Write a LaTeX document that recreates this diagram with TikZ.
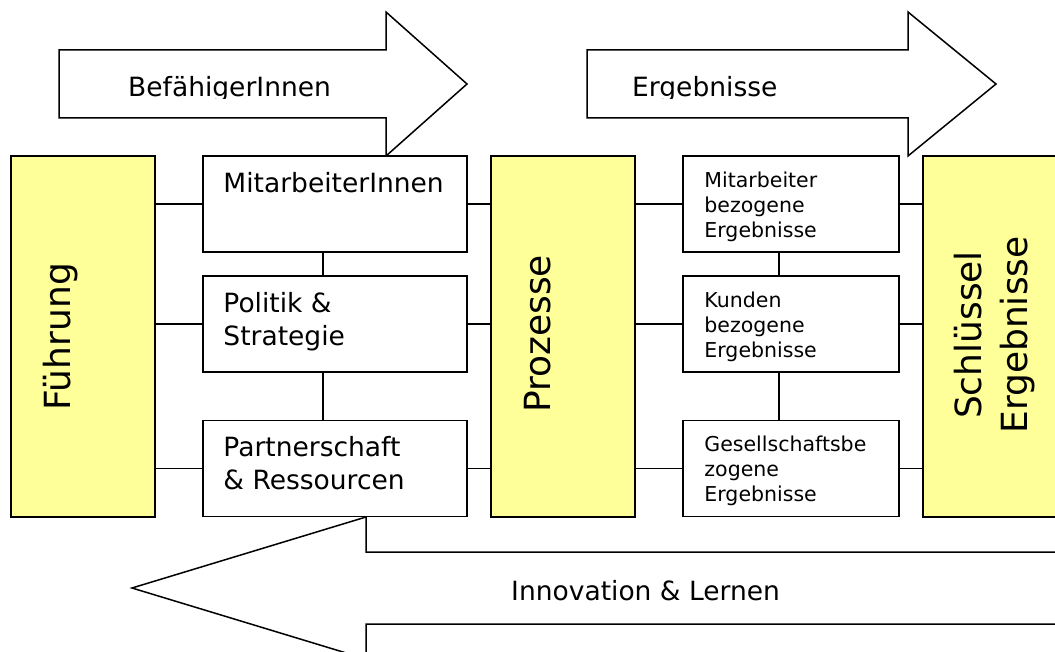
\documentclass[tikz,border=0pt]{standalone}
\usepackage{fontspec}
\setmainfont{DejaVu Sans}
\usetikzlibrary{positioning,calc}
\definecolor{pillaryellow}{HTML}{FFFF99}

\begin{document}
\begin{tikzpicture}[
    x=1pt, y=-1pt,
    pillar/.style={rectangle, draw=black, fill=pillaryellow, line width=1.5pt, minimum width=144pt, minimum height=361pt, inner sep=0},
    enabler/.style={rectangle, draw=black, fill=white, line width=1.5pt, minimum width=264pt, minimum height=96pt, inner sep=0},
    result/.style={rectangle, draw=black, fill=white, line width=1.5pt, minimum width=216pt, minimum height=96pt, inner sep=0},
    bigarrow/.style={draw=black, fill=white, line width=1.5pt},
    link/.style={draw=black, line width=1.5pt},
    boxtext/.style={font=\fontsize{26.5}{33}\selectfont, inner sep=0, align=left, anchor=base west},
    smalltext/.style={font=\fontsize{20.5}{25}\selectfont, inner sep=0, align=left, anchor=base west},
    pillartext/.style={font=\fontsize{36}{46}\selectfont, rotate=90, inner sep=0, align=center}
]

% Page frame
\clip (0,0) rectangle (1055,652);

% Big arrows
\draw[bigarrow] (59,50) -- (386,50) -- (386,12) -- (467,84) -- (386,156) -- (386,118) -- (59,118) -- cycle;
\draw[bigarrow] (587,50) -- (908,50) -- (908,12) -- (996,84) -- (908,156) -- (908,118) -- (587,118) -- cycle;
\draw[bigarrow] (1080,552) -- (366,552) -- (366,517) -- (132,588) -- (366,659) -- (366,624) -- (1080,624) -- cycle;

\begin{scope}
  \clip (59,50) rectangle (467,98.5);
  \node[boxtext] (befaehiger) at (128,97) {BefähigerInnen};
\end{scope}
\begin{scope}
  \clip (587,50) rectangle (996,98.5);
  \node[boxtext] (ergebnisse) at (632,97) {Ergebnisse};
\end{scope}
\node[boxtext] (innovation) at (511,600.5) {Innovation \& Lernen};

% Pillars
\node[pillar] (fuehrung) at (83,336.5) {};
\node[pillar] (prozesse) at (563,336.5) {};
\node[pillar] (schluessel) at (995,336.5) {};

\node[pillartext, anchor=base] (fuehrung-text) at (70,337) {Führung};
\node[pillartext, anchor=base] (prozesse-text) at (550,334) {Prozesse};
\node[pillartext] (schluessel-text) at (995,335) {Schlüssel\\Ergebnisse};

% Enablers (base = last line)
\node[enabler] (mit) at (335,204) {};
\node[enabler] (pol) at (335,324) {};
\node[enabler] (part) at (335,468.5) {};

\node[boxtext] (mit-text) at ([xshift=21pt,yshift=-37pt]mit.north west) {MitarbeiterInnen};
\node[boxtext] (pol-text) at ([xshift=21pt,yshift=-70pt]pol.north west) {Politik \&\\Strategie};
\node[boxtext] (part-text) at ([xshift=21pt,yshift=-70pt]part.north west) {Partnerschaft\\\& Ressourcen};

% Results
\node[result] (mrb) at (791,204) {};
\node[result] (krb) at (791,324) {};
\node[result] (grb) at (791,468.5) {};

\begin{scope}
  \clip (mrb.north west) rectangle ([yshift=11.5pt]mrb.south east);
  \node[smalltext] (mrb-text) at ([xshift=22pt,yshift=-82pt]mrb.north west) {Mitarbeiter\\bezogene\\Ergebnisse};
\end{scope}
\begin{scope}
  \clip (krb.north west) rectangle ([yshift=11.5pt]krb.south east);
  \node[smalltext] (krb-text) at ([xshift=22pt,yshift=-82pt]krb.north west) {Kunden\\bezogene\\Ergebnisse};
\end{scope}
\begin{scope}
  \clip (grb.north west) rectangle ([yshift=11.5pt]grb.south east);
  \node[smalltext] (grb-text) at ([xshift=22pt,yshift=-82pt]grb.north west) {Gesellschaftsbe\\zogene\\Ergebnisse};
\end{scope}

% Links
\draw[link] (fuehrung.east |- mit.west) -- (mit.west) (mit.east) -- (prozesse.west |- mit.east);
\draw[link] (fuehrung.east |- pol.west) -- (pol.west) (pol.east) -- (prozesse.west |- pol.east);
\draw[link] (fuehrung.east |- part.west) -- (part.west) (part.east) -- (prozesse.west |- part.east);
\draw[link] (prozesse.east |- mrb.west) -- (mrb.west) (mrb.east) -- (schluessel.west |- mrb.east);
\draw[link] (prozesse.east |- krb.west) -- (krb.west) (krb.east) -- (schluessel.west |- krb.east);
\draw[link] (prozesse.east |- grb.west) -- (grb.west) (grb.east) -- (schluessel.west |- grb.east);

\draw[link] ([xshift=-12pt]mit.south) -- ([xshift=-12pt]pol.north);
\draw[link] ([xshift=-12pt]pol.south) -- ([xshift=-12pt]part.north);
\draw[link] ([xshift=-12pt]mrb.south) -- ([xshift=-12pt]krb.north);
\draw[link] ([xshift=-12pt]krb.south) -- ([xshift=-12pt]grb.north);

\end{tikzpicture}
\end{document}
